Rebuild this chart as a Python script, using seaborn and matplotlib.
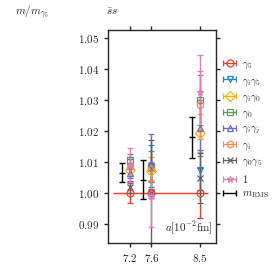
import numpy as np
import matplotlib
matplotlib.use("Agg")
import matplotlib.pyplot as plt
from matplotlib.container import ErrorbarContainer
from matplotlib.legend_handler import HandlerErrorbar
import seaborn as sns

# lattice spacings (10^-2 fm)
a_vals = [7.2, 7.6, 8.5]

# m / m_gamma5 for each channel, with errors
g5 = [1.000, 1.000, 1.000]
g5_err = [0.0032, 0.0015, 0.0080]
gig5 = [1.0080, 1.0088, 1.0075]
gig5_err = [0.0030, 0.0068, 0.0065]
gig0 = [1.0075, 1.0072, 1.0194]
gig0_err = [0.0020, 0.0030, 0.0060]
g0 = [1.0106, 1.0085, 1.0300]
g0_err = [0.0020, 0.0050, 0.0080]
gigj = [1.0065, 1.0095, 1.0210]
gigj_err = [0.0030, 0.0095, 0.0090]
gi = [1.0085, 1.0078, 1.0284]
gi_err = [0.0030, 0.0040, 0.0110]
g0g5 = [1.0020, 1.0000, 1.0050]
g0g5_err = [0.0020, 0.0170, 0.0080]
one = [1.0090, 0.9990, 1.0325]
one_err = [0.0055, 0.0100, 0.0120]

# m_RMS, drawn slightly to the left of each spacing
rms_a = [7.05, 7.45, 8.35]
rms = [1.0066, 1.0044, 1.0180]
rms_err = [0.0030, 0.0062, 0.0066]

yticks = [0.99, 1.00, 1.01, 1.02, 1.03, 1.04, 1.05]

sns.set_style("ticks")
plt.rcParams["font.family"] = ["DejaVu Serif"]
plt.rcParams["mathtext.fontset"] = "cm"

fig = plt.figure(figsize=(2.74, 2.69), dpi=100)
ax = fig.add_axes([108 / 274, 1 - 243 / 269, 108 / 274, 213 / 269])

channels = [
    (g5, g5_err, r"$\gamma_5$", "#e8402c", "o"),
    (gig5, gig5_err, r"$\gamma_i\gamma_5$", "#1f86c8", "v"),
    (gig0, gig0_err, r"$\gamma_i\gamma_0$", "#f0b418", "D"),
    (g0, g0_err, r"$\gamma_0$", "#5e9a50", "s"),
    (gigj, gigj_err, r"$\gamma_i\gamma_j$", "#7468bc", "^"),
    (gi, gi_err, r"$\gamma_i$", "#f58a4a", "h"),
    (g0g5, g0g5_err, r"$\gamma_0\gamma_5$", "#606060", "x"),
    (one, one_err, r"$1$", "#e07ac0", "*"),
]

ax.hlines(1.0, 6.9, 8.65, color="#e8402c", lw=1.0, zorder=1)

handles = []
for vals, errs, lab, col, mk in channels:
    style = dict(fmt=mk, color=col, mfc="none", mec=col, ms=5, lw=1.0,
                 capsize=2, capthick=1.0, mew=0.9)
    ax.errorbar(a_vals, vals, yerr=errs, **style)
    # legend proxy drawn with a horizontal bar, as in the original figure
    handles.append(ax.errorbar([np.nan], [np.nan], xerr=[1], label=lab, **style))

ax.errorbar(rms_a, rms, yerr=rms_err, fmt="_", color="black", ms=5,
            lw=1.0, capsize=2, capthick=1.0)
handles.append(ax.errorbar([np.nan], [np.nan], xerr=[1], fmt="none",
                           color="black", lw=1.0, capsize=2, capthick=1.0,
                           label=r"$m_{\mathrm{RMS}}$"))

ax.set_xlim(6.8, 8.79)
ax.set_ylim(0.984, 1.0525)
ax.set_xticks(a_vals, labels=[f"${v:.1f}$" for v in a_vals])
ax.set_yticks(yticks, labels=[f"${v:.2f}$" for v in yticks])
ax.tick_params(axis="both", direction="out", length=3, width=1,
               labelsize=8, top=True, right=True)
for s in ax.spines.values():
    s.set_linewidth(1.0)

ax.text(0.97, 0.03, r"$a[10^{-2}\mathrm{fm}]$", transform=ax.transAxes,
        ha="right", va="bottom", fontsize=8)
fig.text(32 / 274, 1 - 12 / 269, r"$m/m_{\gamma_5}$", ha="center",
         va="center", fontsize=8)
fig.text(112 / 274, 1 - 12 / 269, r"$\bar{s}s$", ha="center",
         va="center", fontsize=8)

ax.legend(handles=handles, loc="upper left", bbox_to_anchor=(1.0, 0.88),
          frameon=False, fontsize=7.5, handlelength=1.8, handletextpad=0.3,
          labelspacing=0.42, borderaxespad=0.0,
          handler_map={ErrorbarContainer: HandlerErrorbar(xerr_size=0.6)})

fig.savefig("out.png", dpi=100)
